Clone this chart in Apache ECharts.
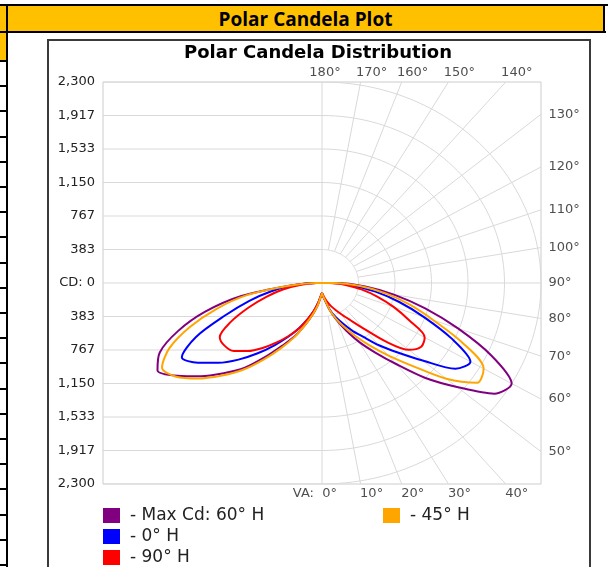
<!DOCTYPE html>
<html>
<head>
<meta charset="utf-8">
<title>Polar Candela Plot</title>
<script src="https://cdn.jsdelivr.net/npm/echarts/dist/echarts.min.js"></script>
<style>
  html, body { margin: 0; padding: 0; background: #fff; }
  #page { position: relative; width: 608px; height: 567px; overflow: hidden; }
  .blk { position: absolute; background: #000; }
  .yel { position: absolute; background: #ffc000; }
  #header-text {
    position: absolute; left: 8px; width: 595px; top: 6px; height: 25px;
    line-height: 25px; text-align: center; color: #000;
    font: bold 19px "Open Sans", sans-serif;
  }
  #box { position: absolute; left: 47px; top: 39px; width: 540px; height: 540px; border: 2px solid #3a3a3a; }
  #chart { position: absolute; left: 0; top: 0; width: 608px; height: 567px; }
</style>
</head>
<body>
<div id="page">
  <div class="blk" style="left:0;top:4px;width:608px;height:2px"></div>
  <div class="yel" style="left:0;top:6px;width:604px;height:25px"></div>
  <div class="blk" style="left:0;top:31px;width:606px;height:2px"></div>
  <div class="blk" style="left:603px;top:4px;width:2px;height:29px"></div>
  <div class="yel" style="left:0;top:33px;width:6px;height:27px"></div>
  <div class="blk" style="left:6px;top:4px;width:2px;height:563px"></div>
  <div id="header-text">Polar Candela Plot</div>
  <div id="box"></div>
  <div id="chart"></div>
</div>
<script>
  // vertical angles (deg, 0 = straight down) and candela per plane
  const vaAngles = [0, 5, 10, 15, 20, 25, 30, 35, 40, 45, 50, 55, 60, 65, 70, 75, 80, 85, 90, 95];

  // right half of the plot
  const cd60 = [114, 155, 213, 326, 453, 600, 778, 968, 1210, 1537, 1851, 2208, 2300, 1962, 1520, 1122, 767, 455, 150, 0];
  const cd0 = [114, 155, 213, 320, 410, 505, 625, 750, 930, 1125, 1380, 1710, 1800, 1500, 1140, 840, 570, 320, 110, 0];
  const cd45 = [114, 155, 213, 326, 440, 560, 700, 870, 1080, 1340, 1705, 1990, 1960, 1636, 1245, 950, 680, 400, 130, 0];
  const cd90 = [114, 140, 180, 230, 285, 345, 420, 520, 680, 945, 1190, 1272, 1245, 1010, 800, 600, 420, 250, 80, 0];

  // left half (opposite planes)
  const cd240 = [114, 160, 260, 370, 500, 670, 825, 1030, 1270, 1460, 1660, 1850, 1995, 1880, 1610, 1270, 860, 330, 60, 0];
  const cd180 = [114, 150, 230, 330, 440, 570, 710, 870, 1050, 1240, 1420, 1590, 1700, 1460, 1080, 790, 540, 300, 60, 0];
  const cd225 = [114, 160, 260, 370, 500, 680, 860, 1070, 1300, 1500, 1700, 1870, 1940, 1770, 1480, 1150, 800, 330, 60, 0];
  const cd270 = [114, 150, 230, 330, 440, 575, 700, 830, 970, 1100, 1210, 1250, 1240, 1060, 820, 600, 410, 220, 60, 0];

  const seriesNames = ['Max Cd: 60° H', '0° H', '90° H', '45° H'];
  const seriesColors = ['#800080', '#0000ff', '#ff0000', '#ffa500'];
  const rightData = [cd60, cd0, cd90, cd45];
  const leftData = [cd240, cd180, cd270, cd225];

  const CD_MAX = 2300;
  const CD_STEP = CD_MAX / 6;
  const angleTicks = [0, 10, 20, 30, 40, 50, 60, 70, 80, 90, 100, 110, 120, 130, 140, 150, 160, 170, 180];

  // left column cell borders of the sheet
  const page = document.getElementById('page');
  for (let y = 60; y < 567; y += 25.2) {
    const d = document.createElement('div');
    d.className = 'blk';
    d.style.cssText = 'left:0;top:' + Math.round(y) + 'px;width:8px;height:2px';
    page.appendChild(d);
  }

  const rad = d => d * Math.PI / 180;
  function polarXY(deg, cd, side) {
    return [side * cd * Math.sin(rad(deg)), -cd * Math.cos(rad(deg))];
  }
  function edgePoint(deg) {
    const s = Math.sin(rad(deg)), c = -Math.cos(rad(deg));
    let t = Infinity;
    if (Math.abs(s) > 1e-9) t = Math.min(t, CD_MAX / Math.abs(s));
    if (Math.abs(c) > 1e-9) t = Math.min(t, CD_MAX / Math.abs(c));
    return [t * s, t * c];
  }

  // grid lines: left horizontals, centre vertical, right arcs and radials
  const gridLines = [];
  for (let k = -6; k <= 6; k++) {
    gridLines.push({ coords: [[-CD_MAX, k * CD_STEP], [0, k * CD_STEP]] });
  }
  gridLines.push({ coords: [[0, -CD_MAX], [0, CD_MAX]] });
  for (let k = 1; k <= 6; k++) {
    const pts = [];
    for (let a = 0; a <= 180; a += 2) pts.push(polarXY(a, k * CD_STEP, 1));
    gridLines.push({ coords: pts });
  }
  angleTicks.filter(a => a > 0 && a < 180).forEach(a => {
    gridLines.push({ coords: [polarXY(a, CD_STEP, 1), edgePoint(a)] });
  });

  const angleLabels = angleTicks.map(a => {
    let label;
    if (a === 0) label = { position: 'bottom', distance: 3, align: 'right', offset: [15, 0] };
    else if (a < 45) label = { position: 'bottom', distance: 3, offset: [11, 0] };
    else if (a === 180) label = { position: 'top', distance: 2, offset: [3, 0] };
    else if (a > 135) label = { position: 'top', distance: 2, offset: [11, 0] };
    else label = { position: 'right', distance: 7 };
    return { name: a === 0 ? 'VA:  0°' : a + '°', value: edgePoint(a), label: label };
  });

  const curveSeries = [];
  seriesNames.forEach((name, i) => {
    const left = vaAngles.map((a, j) => polarXY(a, leftData[i][j], -1)).reverse();
    const right = vaAngles.map((a, j) => polarXY(a, rightData[i][j], 1));
    [left, right].forEach(data => {
      curveSeries.push({
        name: name,
        type: 'line',
        data: data,
        color: seriesColors[i],
        symbol: 'none',
        smooth: 0.3,
        lineStyle: { width: 2 },
        z: 5,
        animation: false
      });
    });
  });

  const legendText = { fontFamily: '"DejaVu Sans", Verdana, sans-serif', fontSize: 17, lineHeight: 17, color: '#222', padding: [0, 0, 0, 5] };

  const chart = echarts.init(document.getElementById('chart'));
  const font = '"DejaVu Sans", Verdana, sans-serif';
  chart.setOption({
    backgroundColor: 'transparent',
    animation: false,
    graphic: [{
      type: 'text',
      x: 318,
      y: 53,
      style: {
        text: 'Polar Candela Distribution',
        fontFamily: font,
        fontWeight: 'bold',
        fontSize: 18,
        fill: '#000',
        align: 'center',
        verticalAlign: 'middle'
      }
    }],
    grid: {
      left: 103, right: 67, top: 82, bottom: 83,
      show: true, borderColor: '#cccccc', borderWidth: 1
    },
    xAxis: {
      type: 'value', min: -CD_MAX, max: CD_MAX, show: false
    },
    yAxis: {
      type: 'value', min: -CD_MAX, max: CD_MAX, interval: CD_STEP,
      axisLine: { show: false },
      axisTick: { show: false },
      splitLine: { show: false },
      axisLabel: {
        margin: 8,
        color: '#222',
        fontFamily: font,
        fontSize: 13,
        formatter: v => {
          const n = Math.round(Math.abs(v));
          return n === 0 ? 'CD: 0' : n.toLocaleString('en-US');
        }
      }
    },
    legend: [{
      data: ['Max Cd: 60° H', '0° H', '90° H'],
      orient: 'vertical',
      left: 103, top: 507, width: 260, height: 64, padding: 0, itemGap: 4,
      icon: 'rect', itemWidth: 17, itemHeight: 15,
      formatter: '- {name}',
      textStyle: legendText
    }, {
      data: ['45° H'],
      orient: 'vertical',
      left: 383, top: 507, height: 30, padding: 0,
      icon: 'rect', itemWidth: 17, itemHeight: 15,
      formatter: '- {name}',
      textStyle: legendText
    }],
    series: [{
      type: 'lines',
      coordinateSystem: 'cartesian2d',
      polyline: true,
      silent: true,
      data: gridLines,
      lineStyle: { color: '#d9d9d9', width: 1, opacity: 1 },
      z: 1
    }, {
      type: 'scatter',
      data: angleLabels,
      symbolSize: 1,
      itemStyle: { color: 'rgba(0,0,0,0)' },
      silent: true,
      clip: false,
      label: {
        show: true,
        formatter: '{b}',
        color: '#222',
        fontFamily: font,
        fontSize: 13
      },
      z: 3
    }].concat(curveSeries)
  });
</script>
</body>
</html>
